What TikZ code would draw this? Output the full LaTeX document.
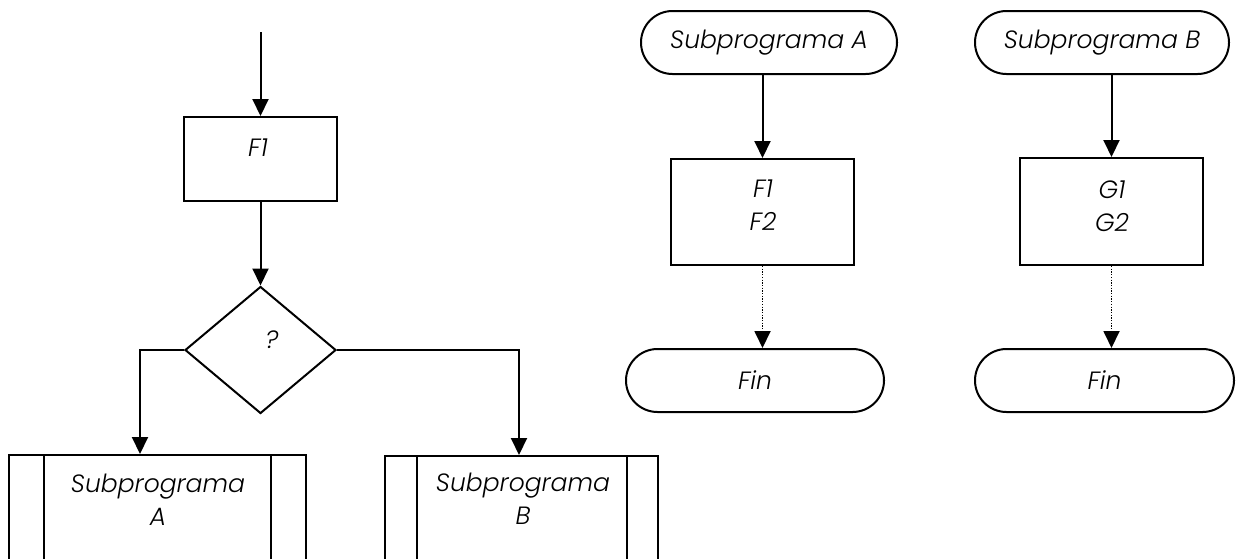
\documentclass[tikz,border=0pt]{standalone}
\usepackage{fontspec}
\setmainfont{Poppins}[UprightFont={* Light}, ItalicFont={* Light Italic}]
\usetikzlibrary{arrows.meta,shapes.geometric,shapes.misc}
\begin{document}
\begin{tikzpicture}[x=1pt,y=-1pt,
  flow/.style={line width=2pt},
  arr/.style={flow,-{Triangle[length=17pt,width=16pt]}},
  dotarr/.style={line width=1.8pt,dash pattern=on 1.3pt off 1.4pt,-{Triangle[length=17pt,width=16pt]}},
  box/.style={draw,line width=2pt,rectangle,inner sep=0pt},
  term/.style={draw,line width=2pt,rounded rectangle,inner sep=0pt,
    font=\itshape\fontsize{25}{32}\selectfont},
  dec/.style={draw,line width=2pt,diamond,inner sep=0pt},
  txt/.style={font=\itshape\fontsize{25}{33}\selectfont,align=center,inner sep=0pt}]
\clip (0,0) rectangle (1236,558);
\fill[white] (0,0) rectangle (1236,558);

% main program
\coordinate (start) at (260.5,32);
\node[box,minimum width=153pt,minimum height=84pt] (f1) at (260.5,159) {};
\node[txt] (f1t) at (258,148) {F1};
\node[dec,minimum width=151pt,minimum height=127pt] (q) at (260.5,350) {};
\node[txt] (qt) at (272,340) {?};
\node[box,minimum width=297pt,minimum height=145pt] (subA) at (157.5,527.5) {};
\node[box,minimum width=273pt,minimum height=145pt] (subB) at (521.5,528.5) {};
\draw[flow] ([xshift=36pt]subA.north west) -- ([xshift=36pt]subA.south west);
\draw[flow] ([xshift=-36pt]subA.north east) -- ([xshift=-36pt]subA.south east);
\draw[flow] ([xshift=33pt]subB.north west) -- ([xshift=33pt]subB.south west);
\draw[flow] ([xshift=-32pt]subB.north east) -- ([xshift=-32pt]subB.south east);
\node[txt] (subAt) at (158,500) {Subprograma\\A};
\node[txt] (subBt) at (523,499) {Subprograma\\B};

\draw[arr] (start) -- (f1);
\draw[arr] (f1) -- (q);
\draw[arr] (q.west) -| ([xshift=-17.5pt]subA.north);
\draw[arr] (q.east) -| ([xshift=-2.5pt]subB.north);

% subprogram A
\node[term,minimum width=256pt,minimum height=63pt] (sa) at (769,42.5) {Subprograma A};
\node[box,minimum width=183pt,minimum height=106pt] (fa) at (762.5,212) {};
\node[txt] (fat) at (763,205) {F1\\F2};
\node[term,minimum width=258pt,minimum height=63pt] (fina) at (755,380.5) {Fin};
\draw[arr] (sa.south -| fa.north) -- (fa.north);
\draw[dotarr] (fa.south) -- (fa.south |- fina.north);

% subprogram B
\node[term,minimum width=254pt,minimum height=63pt] (sb) at (1102,42.5) {Subprograma B};
\node[box,minimum width=183pt,minimum height=107pt] (gb) at (1111.5,211.5) {};
\node[txt] (gbt) at (1112,206) {G1\\G2};
\node[term,minimum width=259pt,minimum height=63pt] (finb) at (1104.5,380.5) {Fin};
\draw[arr] (sb.south -| gb.north) -- (gb.north);
\draw[dotarr] (gb.south) -- (gb.south |- finb.north);
\end{tikzpicture}
\end{document}
